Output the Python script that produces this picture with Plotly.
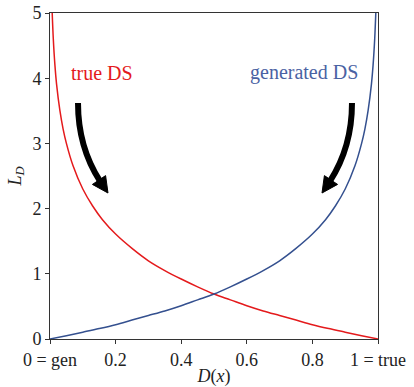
import plotly.graph_objects as go

# D(x) positions and loss values
true_D = [0.0067, 0.01, 0.015, 0.02, 0.03, 0.04, 0.05, 0.07, 0.1, 0.13, 0.16, 0.2, 0.25, 0.3,
          0.35, 0.4, 0.45, 0.5, 0.55, 0.6, 0.65, 0.7, 0.75, 0.8, 0.85, 0.9, 0.95, 1.0]
true_L = [5.0, 4.61, 4.20, 3.91, 3.51, 3.22, 3.00, 2.66, 2.30, 2.04, 1.83, 1.61, 1.39, 1.20,
          1.05, 0.92, 0.80, 0.69, 0.60, 0.51, 0.43, 0.36, 0.29, 0.22, 0.16, 0.105, 0.051, 0.0]

gen_D = [0.0, 0.05, 0.1, 0.15, 0.2, 0.25, 0.3, 0.35, 0.4, 0.45, 0.5, 0.55, 0.6, 0.65, 0.7,
         0.75, 0.8, 0.84, 0.87, 0.9, 0.93, 0.95, 0.96, 0.97, 0.98, 0.985, 0.99, 0.9933]
gen_L = [0.0, 0.051, 0.105, 0.16, 0.22, 0.29, 0.36, 0.43, 0.51, 0.60, 0.69, 0.80, 0.92, 1.05, 1.20,
         1.39, 1.61, 1.83, 2.04, 2.30, 2.66, 3.00, 3.22, 3.51, 3.91, 4.20, 4.61, 5.0]

x_tickvals = [0, 0.2, 0.4, 0.6, 0.8, 1]
x_ticktext = ["0 = gen", "0.2", "0.4", "0.6", "0.8", "1 = true"]
y_tickvals = [0, 1, 2, 3, 4, 5]

RED = "#e41a1c"
BLUE = "#34508f"
FONT = "Liberation Serif"
TXT = "#222222"

fig = go.Figure()
fig.add_trace(go.Scatter(x=true_D, y=true_L, mode="lines", line=dict(color=RED, width=1.5, shape="spline"),
                         showlegend=False, hoverinfo="skip"))
fig.add_trace(go.Scatter(x=gen_D, y=gen_L, mode="lines", line=dict(color=BLUE, width=1.5, shape="spline"),
                         showlegend=False, hoverinfo="skip"))

fig.add_annotation(x=0.16, y=4.08, text="true DS", showarrow=False,
                   font=dict(family=FONT, size=20, color=RED))
fig.add_annotation(x=0.775, y=4.08, text="generated DS", showarrow=False,
                   font=dict(family=FONT, size=20, color="#4a62a3"))

# curved arrows (annotation decorations)
arrows = [
    dict(tail=(0.0854, 3.62), ctrl=(0.0854, 2.945), end=(0.1524, 2.423),
         tip=(0.1768, 2.239), b1=(0.1695, 2.506), b2=(0.1293, 2.371)),
    dict(tail=(0.9207, 3.62), ctrl=(0.9207, 2.945), end=(0.8537, 2.423),
         tip=(0.8293, 2.239), b1=(0.8366, 2.506), b2=(0.8768, 2.371)),
]
for a in arrows:
    fig.add_shape(type="path", xref="x", yref="y",
                  path=f"M {a['tail'][0]},{a['tail'][1]} Q {a['ctrl'][0]},{a['ctrl'][1]} {a['end'][0]},{a['end'][1]}",
                  line=dict(color="black", width=6))
    fig.add_shape(type="path", xref="x", yref="y",
                  path=f"M {a['tip'][0]},{a['tip'][1]} L {a['b1'][0]},{a['b1'][1]} L {a['b2'][0]},{a['b2'][1]} Z",
                  fillcolor="black", line=dict(color="black", width=1))

fig.update_layout(
    width=414, height=387,
    margin=dict(l=50, r=36, t=13, b=48, autoexpand=False),
    plot_bgcolor="white", paper_bgcolor="white",
    font=dict(family=FONT, size=18, color=TXT),
)
fig.update_xaxes(range=[0, 1], tickvals=x_tickvals, ticktext=x_ticktext, showgrid=False, zeroline=False,
                 showline=True, mirror=True, linecolor="#333", linewidth=1, automargin=False,
                 ticks="outside", ticklen=4, tickcolor="#333", ticklabeloverflow="allow",
                 tickfont=dict(family=FONT, size=18, color=TXT),
                 title=dict(text="<i>D</i>(<i>x</i>)", font=dict(family=FONT, size=18, color=TXT), standoff=2))
fig.update_yaxes(range=[0, 5], tickvals=y_tickvals, showgrid=False, zeroline=False,
                 showline=True, mirror=True, linecolor="#333", linewidth=1, automargin=False,
                 ticks="outside", ticklen=4, tickcolor="#333", ticklabeloverflow="allow",
                 tickfont=dict(family=FONT, size=18, color=TXT),
                 title=dict(text="<i>L<sub>D</sub></i>", font=dict(family=FONT, size=18, color=TXT), standoff=6))

fig.write_html("out.html", config={"displayModeBar": False},
               post_script="document.body.style.margin='0';document.body.style.overflow='hidden';")
